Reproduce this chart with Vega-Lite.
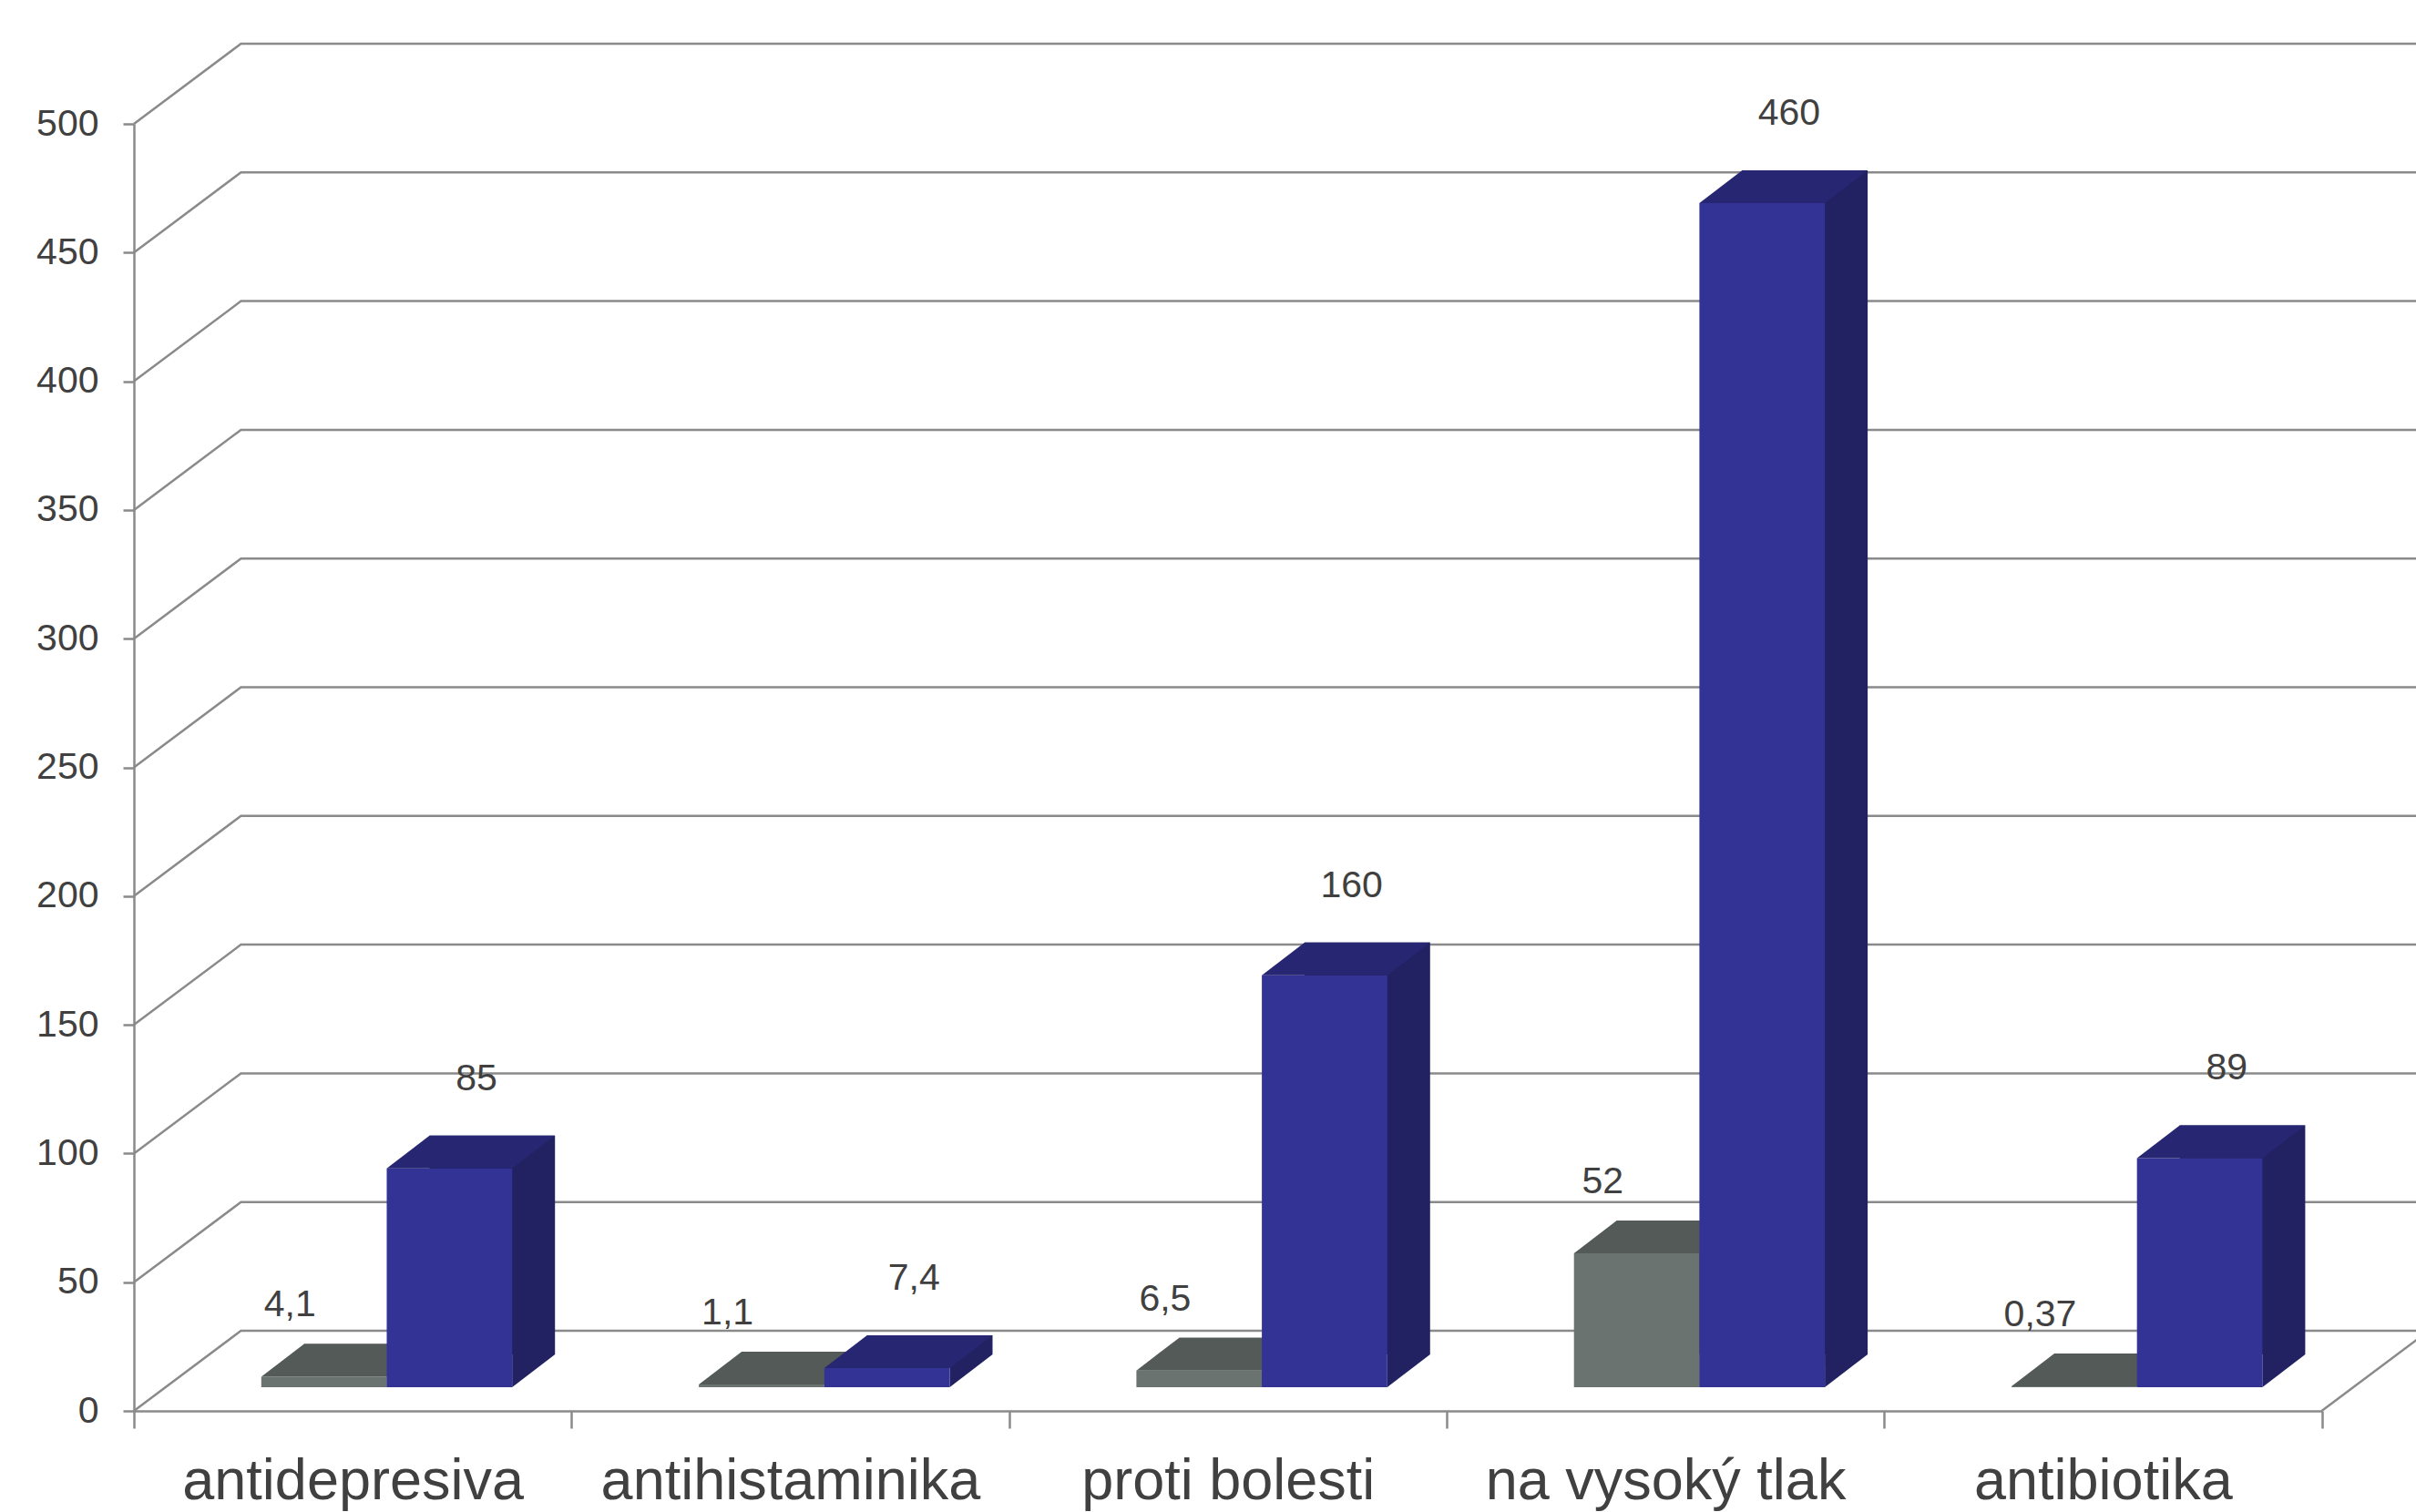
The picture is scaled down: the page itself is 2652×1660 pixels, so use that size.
{
  "$schema": "https://vega.github.io/schema/vega-lite/v6.json",
  "autosize": {"type": "none"},
  "padding": {"left": 147, "top": 136, "right": 103.5, "bottom": 111},
  "width": 2401.5,
  "height": 1413,
  "background": "white",
  "config": {
    "view": {"stroke": null},
    "font": "Liberation Sans",
    "axis": {"domainColor": "#8a8a8a", "domainWidth": 2.5, "tickColor": "#8a8a8a", "tickWidth": 2.5, "labelColor": "#404040", "labelFont": "Liberation Sans", "grid": false, "labelOverlap": false, "labelLimit": 0},
    "axisX": {"labelFontSize": 63, "labelAngle": 0, "tickSize": 19, "labelPadding": 77, "labelBaseline": "alphabetic", "tickBand": "extent"},
    "axisY": {"labelFontSize": 41, "tickSize": 12, "labelPadding": 27, "tickCount": 10}
  },
  "datasets": {
    "bars": [
      {"c": "antidepresiva", "s": "a", "v": 4.1, "t": "4,1"},
      {"c": "antidepresiva", "s": "b", "v": 85, "t": "85"},
      {"c": "antihistaminika", "s": "a", "v": 1.1, "t": "1,1"},
      {"c": "antihistaminika", "s": "b", "v": 7.4, "t": "7,4"},
      {"c": "proti bolesti", "s": "a", "v": 6.5, "t": "6,5"},
      {"c": "proti bolesti", "s": "b", "v": 160, "t": "160"},
      {"c": "na vysoký tlak", "s": "a", "v": 52, "t": "52"},
      {"c": "na vysoký tlak", "s": "b", "v": 460, "t": "460"},
      {"c": "antibiotika", "s": "a", "v": 0.37, "t": "0,37"},
      {"c": "antibiotika", "s": "b", "v": 89, "t": "89"}
    ],
    "grid": [{"v": 0}, {"v": 50}, {"v": 100}, {"v": 150}, {"v": 200}, {"v": 250}, {"v": 300}, {"v": 350}, {"v": 400}, {"v": 450}, {"v": 500}]
  },
  "layer": [
    {
      "data": {"name": "grid"},
      "mark": {"type": "point", "shape": "M0,0L117.5,-88L2700,-88", "size": 4, "filled": false, "stroke": "#8a8a8a", "strokeWidth": 2.5, "opacity": 1},
      "encoding": {
        "x": {"datum": "antidepresiva", "type": "nominal", "bandPosition": 0, "scale": {"domain": ["antidepresiva", "antihistaminika", "proti bolesti", "na vysoký tlak", "antibiotika"], "paddingInner": 0, "paddingOuter": 0}, "title": null},
        "y": {"field": "v", "type": "quantitative", "scale": {"domain": [0, 500], "nice": false}, "title": null}
      }
    },
    {
      "data": {"values": [{"v": 0}]},
      "mark": {"type": "point", "shape": "M0,0L117.5,-88", "size": 4, "filled": false, "stroke": "#8a8a8a", "strokeWidth": 2.5, "opacity": 1},
      "encoding": {
        "x": {"datum": "antibiotika", "type": "nominal", "bandPosition": 1, "title": null},
        "y": {"field": "v", "type": "quantitative", "title": null}
      }
    },
    {
      "data": {"name": "bars"},
      "transform": [{"filter": "datum.s === 'a'"}],
      "mark": {"type": "bar", "width": 137.7, "color": "#474c4a", "xOffset": 15.5, "x2Offset": 15.5, "yOffset": -62, "y2Offset": -62},
      "encoding": {
        "x": {"field": "c", "type": "nominal", "title": null},
        "y": {"field": "v", "type": "quantitative", "title": null}
      }
    },
    {
      "data": {"name": "bars"},
      "transform": [{"filter": "datum.s === 'a'"}],
      "mark": {"type": "point", "shape": "M68.85,0L68.85,-36L115.85,-36Z", "size": 4, "filled": true, "fill": "#474c4a", "strokeWidth": 0, "opacity": 1, "xOffset": -31.5, "yOffset": -26},
      "encoding": {
        "x": {"field": "c", "type": "nominal", "title": null},
        "y": {"datum": 0, "type": "quantitative"}
      }
    },
    {
      "data": {"name": "bars"},
      "transform": [{"filter": "datum.s === 'a'"}],
      "mark": {"type": "bar", "width": 137.7, "color": "#6b7370", "xOffset": -31.5, "x2Offset": -31.5, "yOffset": -26, "y2Offset": -26},
      "encoding": {
        "x": {"field": "c", "type": "nominal", "title": null},
        "y": {"field": "v", "type": "quantitative", "title": null}
      }
    },
    {
      "data": {"name": "bars"},
      "transform": [{"filter": "datum.s === 'a'"}],
      "mark": {"type": "point", "shape": "M-68.85,0L68.85,0L115.85,-36L-21.85,-36Z", "size": 4, "filled": true, "fill": "#545a57", "strokeWidth": 0, "opacity": 1, "xOffset": -31.5, "yOffset": -26},
      "encoding": {
        "x": {"field": "c", "type": "nominal", "title": null},
        "y": {"field": "v", "type": "quantitative", "title": null}
      }
    },
    {
      "data": {"name": "bars"},
      "transform": [{"filter": "datum.s === 'b'"}],
      "mark": {"type": "bar", "width": 137.7, "color": "#222262", "xOffset": 153.2, "x2Offset": 153.2, "yOffset": -62, "y2Offset": -62},
      "encoding": {
        "x": {"field": "c", "type": "nominal", "title": null},
        "y": {"field": "v", "type": "quantitative", "title": null}
      }
    },
    {
      "data": {"name": "bars"},
      "transform": [{"filter": "datum.s === 'b'"}],
      "mark": {"type": "point", "shape": "M68.85,0L68.85,-36L115.85,-36Z", "size": 4, "filled": true, "fill": "#222262", "strokeWidth": 0, "opacity": 1, "xOffset": 106.2, "yOffset": -26},
      "encoding": {
        "x": {"field": "c", "type": "nominal", "title": null},
        "y": {"datum": 0, "type": "quantitative"}
      }
    },
    {
      "data": {"name": "bars"},
      "transform": [{"filter": "datum.s === 'b'"}],
      "mark": {"type": "bar", "width": 137.7, "color": "#333395", "xOffset": 106.2, "x2Offset": 106.2, "yOffset": -26, "y2Offset": -26},
      "encoding": {
        "x": {"field": "c", "type": "nominal", "title": null},
        "y": {"field": "v", "type": "quantitative", "title": null}
      }
    },
    {
      "data": {"name": "bars"},
      "transform": [{"filter": "datum.s === 'b'"}],
      "mark": {"type": "point", "shape": "M-68.85,0L68.85,0L115.85,-36L-21.85,-36Z", "size": 4, "filled": true, "fill": "#262672", "strokeWidth": 0, "opacity": 1, "xOffset": 106.2, "yOffset": -26},
      "encoding": {
        "x": {"field": "c", "type": "nominal", "title": null},
        "y": {"field": "v", "type": "quantitative", "title": null}
      }
    },
    {
      "data": {"name": "bars"},
      "transform": [{"filter": "datum.s === 'a'"}],
      "mark": {"type": "text", "fontSize": 41, "font": "Liberation Sans", "color": "#404040", "align": "center", "baseline": "middle", "xOffset": -68.85, "yOffset": -104},
      "encoding": {
        "x": {"field": "c", "type": "nominal", "title": null},
        "y": {"field": "v", "type": "quantitative", "title": null},
        "text": {"field": "t", "type": "nominal"}
      }
    },
    {
      "data": {"name": "bars"},
      "transform": [{"filter": "datum.s === 'b'"}],
      "mark": {"type": "text", "fontSize": 41, "font": "Liberation Sans", "color": "#404040", "align": "center", "baseline": "middle", "xOffset": 135.85, "yOffset": -124},
      "encoding": {
        "x": {"field": "c", "type": "nominal", "title": null},
        "y": {"field": "v", "type": "quantitative", "title": null},
        "text": {"field": "t", "type": "nominal"}
      }
    }
  ]
}
